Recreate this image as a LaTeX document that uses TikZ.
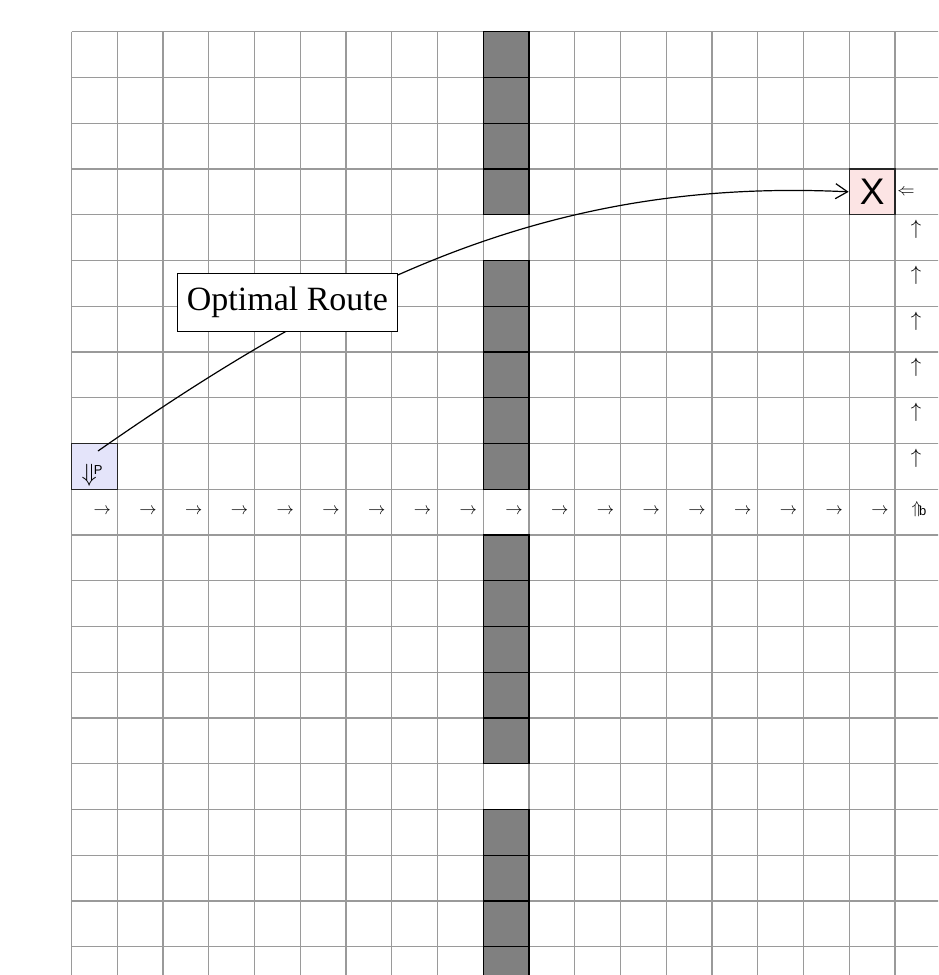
\documentclass[tikz,border=0pt]{standalone}
\usepackage{fontspec}
\setmainfont{Liberation Serif}
\newfontfamily\arialfam{Liberation Sans}
\usetikzlibrary{arrows.meta}
\definecolor{gridgray}{HTML}{9A9A9A}
\definecolor{wallgray}{HTML}{808080}
\definecolor{startfill}{HTML}{E4E4FA}
\definecolor{goalfill}{HTML}{FCE4E4}
\tikzset{
  gridline/.style={draw=gridgray, line width=1.3pt},
  wall/.style={fill=wallgray, draw=black, line width=1.2pt},
  cellbox/.style={draw=black!85, line width=1.2pt, minimum size=45.75pt, inner sep=0pt},
  glyph/.style={inner sep=0pt, font=\fontsize{18}{18}\selectfont},
  upglyph/.style={inner sep=0pt, font=\fontsize{21}{21}\selectfont},
  routelabel/.style={draw=black, fill=white, line width=1pt, minimum width=220pt, minimum height=58pt, inner sep=0pt, font=\fontsize{34}{34}\selectfont},
  route/.style={draw=black, line width=1.2pt, -{Straight Barb[length=12pt,width=15pt,line width=1.2pt]}}
}
\begin{document}
\begin{tikzpicture}[x=1pt,y=-1pt]
\useasboundingbox (0,0) rectangle (938,975);
\clip (0,0) rectangle (938,975);
\begin{scope}[shift={(71.5pt,-31.7pt)},x=45.75pt,y=-45.75pt]
  \foreach \i in {0,...,20} \draw[gridline] (\i,0) -- (\i,21);
  \foreach \j in {0,...,21} \draw[gridline] (0,\j) -- (20,\j);
  \foreach \r in {0,1,2,3,5,6,7,8,9,11,12,13,14,15,17,18,19,20}
    \draw[wall] (9,\r) rectangle (10,\r+1);
  \node[cellbox, fill=startfill] (start) at (0.5,9.5) {};
  \node[cellbox, fill=goalfill] (goal) at (17.5,3.5) {};
\end{scope}
% goal letter
\node[inner sep=0pt, font=\arialfam\fontsize{37}{37}\selectfont] (xmark) at (goal.center) {X};
% start glyph
\node[inner sep=0pt, font=\fontsize{24}{24}\selectfont] (sarrow) at (92,475)
  {$\Downarrow$\kern-3pt\raisebox{7pt}{\arialfam\fontsize{13}{13}\selectfont P}};
% right arrows along row 10
\foreach \i in {0,...,17}
  \node[glyph] (r\i) at ({71.5+45.75*(\i+0.5)+8},511) {$\rightarrow$};
% end glyph
\node[inner sep=0pt, font=\fontsize{17}{17}\selectfont] (earrow) at (919,509)
  {$\Uparrow$\kern-3pt\raisebox{-2pt}{\arialfam\fontsize{13}{13}\selectfont b}};
% up arrows in column 18
\foreach \r in {4,...,9}
  \node[upglyph] (u\r) at (916,{31.7+45.75*(\r+0.5)-8}) {$\uparrow$};
% left double arrow
\node[glyph] (larrow) at (906,192) {$\Leftarrow$};
% route
\coordinate (s0) at (98,451);
\draw[route] (s0) .. controls (353,273) and (560,178) .. node[routelabel, pos=0.26, yshift=27pt, xshift=-2pt] (lbl) {Optimal Route} (goal.west);
\end{tikzpicture}
\end{document}
